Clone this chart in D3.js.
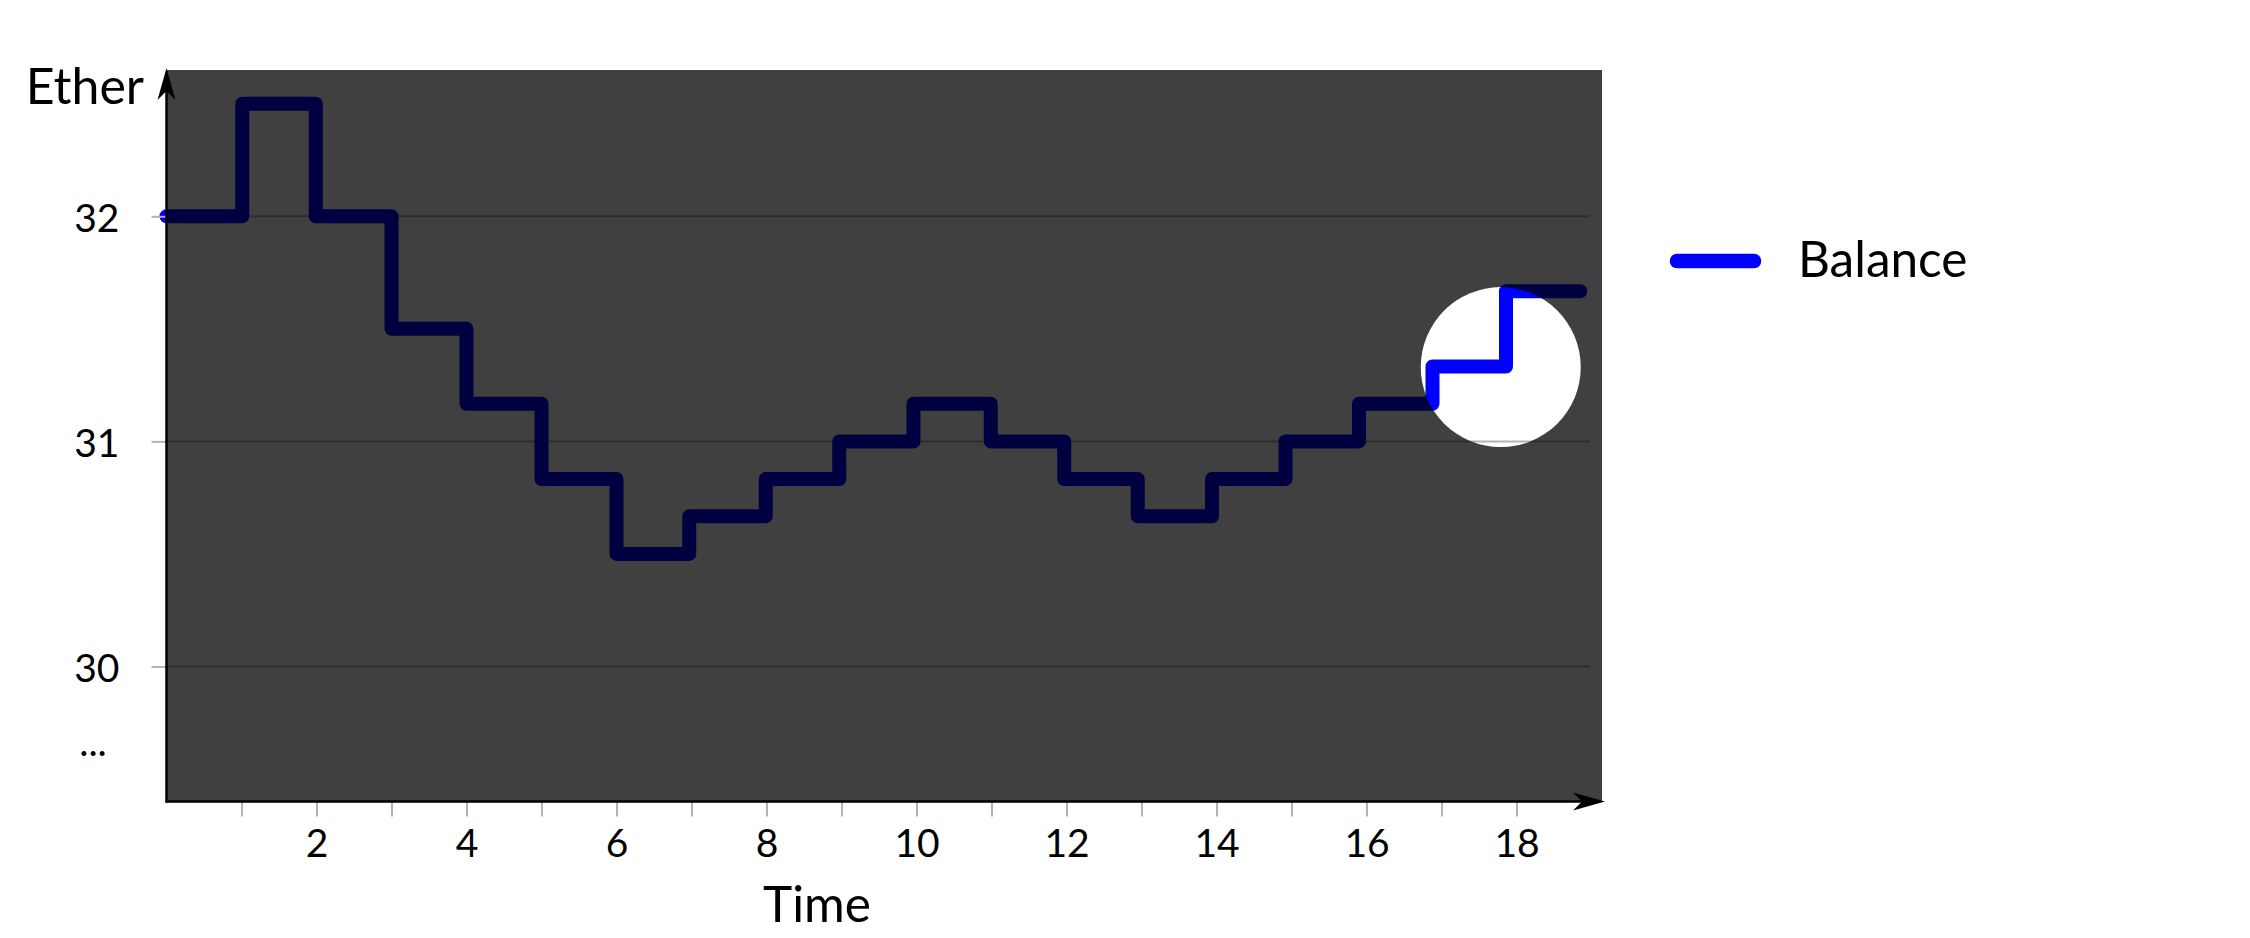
<!DOCTYPE html>
<html>
<head>
<meta charset="utf-8">
<script src="https://cdn.jsdelivr.net/npm/d3@7"></script>
<style>
  html, body { margin: 0; padding: 0; background: #ffffff; }
  svg { display: block; font-family: Lato, "Open Sans", sans-serif; }
</style>
</head>
<body>
<svg id="chart" width="2250" height="938"></svg>
<script>
// ---- data ----
const times    = [0, 1.01, 1.99, 3, 4, 5, 6, 6.97, 7.99, 8.97, 9.96, 10.99, 11.97, 12.95, 13.94, 14.92, 15.9, 16.88, 17.86, 18.85];
const balances = [32, 32.5, 32, 31.5, 31.167, 30.833, 30.5, 30.667, 30.833, 31, 31.167, 31, 30.833, 30.667, 30.833, 31, 31.167, 31.333, 31.667, 31.667];
const xTickValues  = [1, 2, 3, 4, 5, 6, 7, 8, 9, 10, 11, 12, 13, 14, 15, 16, 17, 18];
const xLabelValues = [2, 4, 6, 8, 10, 12, 14, 16, 18];
const yTickValues  = [30, 31, 32];
const yEllipsisValue = 29.6;
const yEllipsisLabel = "...";
const seriesName = "Balance";
const spotlightCenter = [17.79, 31.33];
const xDomain = [0, 19.14];
const yDomain = [29.4, 32.65];

// ---- layout ----
const W = 2250, H = 938;
const plot = { left: 166.5, right: 1602, top: 70, bottom: 801.5 };
const blue = "#0000ff";
const lineWidth = 14;

const svg = d3.select("#chart");

const x = d3.scaleLinear().domain(xDomain).range([plot.left, plot.right]);
const y = d3.scaleLinear().domain(yDomain).range([plot.bottom, plot.top]);

const data = times.map((t, i) => ({ t, v: balances[i] }));

// mask for the spotlight
const defs = svg.append("defs");
const mask = defs.append("mask").attr("id", "spot")
  .attr("maskUnits", "userSpaceOnUse")
  .attr("x", 0).attr("y", 0).attr("width", W).attr("height", H);
mask.append("rect").attr("x", 0).attr("y", 0).attr("width", W).attr("height", H).attr("fill", "white");
mask.append("circle")
  .attr("cx", x(spotlightCenter[0]))
  .attr("cy", y(spotlightCenter[1]))
  .attr("r", 80)
  .attr("fill", "black");

// grid lines
const gridEnd = plot.right - 12;
svg.append("g").selectAll("line").data(yTickValues).join("line")
  .attr("x1", plot.left).attr("x2", gridEnd)
  .attr("y1", d => y(d)).attr("y2", d => y(d))
  .attr("stroke", "#b3b3b3").attr("stroke-width", 2);

// series line
const line = d3.line().x(d => x(d.t)).y(d => y(d.v)).curve(d3.curveStepAfter);
svg.append("path").datum(data)
  .attr("d", line)
  .attr("fill", "none")
  .attr("stroke", blue)
  .attr("stroke-width", lineWidth)
  .attr("stroke-linecap", "round")
  .attr("stroke-linejoin", "round");

// dark overlay with spotlight hole
svg.append("rect")
  .attr("x", plot.left).attr("y", plot.top)
  .attr("width", plot.right - plot.left).attr("height", plot.bottom - plot.top)
  .attr("fill", "#000").attr("fill-opacity", 0.75)
  .attr("mask", "url(#spot)");

// x axis ticks & labels
const xAxis = d3.axisBottom(x)
  .tickValues(xTickValues)
  .tickSize(15)
  .tickPadding(13)
  .tickFormat(d => xLabelValues.includes(d) ? String(d) : "");
const gx = svg.append("g").attr("transform", `translate(0,${plot.bottom})`).call(xAxis);
gx.select(".domain").remove();
gx.selectAll(".tick line").attr("stroke", "#b3b3b3").attr("stroke-width", 2);
gx.selectAll(".tick text").attr("fill", "#000").attr("font-size", 39).attr("font-family", "Lato");

// y axis ticks & labels
const yAxis = d3.axisLeft(y)
  .tickValues(yTickValues)
  .tickSize(15)
  .tickPadding(32)
  .tickFormat(d3.format("d"));
const gy = svg.append("g").attr("transform", `translate(${plot.left},0)`).call(yAxis);
gy.select(".domain").remove();
gy.selectAll(".tick line").attr("stroke", "#b3b3b3").attr("stroke-width", 2);
gy.selectAll(".tick text").attr("fill", "#000").attr("font-size", 39).attr("font-family", "Lato").attr("dy", "0.38em");

svg.append("text")
  .attr("x", 93).attr("y", y(yEllipsisValue))
  .attr("text-anchor", "middle")
  .attr("font-size", 39)
  .text(yEllipsisLabel);

// axis lines with arrows
const yTip = [plot.left, plot.top - 2];
const xTip = [plot.right + 3, plot.bottom];
svg.append("line")
  .attr("x1", plot.left).attr("y1", plot.bottom + 1)
  .attr("x2", plot.left).attr("y2", yTip[1] + 20)
  .attr("stroke", "#000").attr("stroke-width", 2.5);
svg.append("line")
  .attr("x1", plot.left - 1).attr("y1", plot.bottom)
  .attr("x2", xTip[0] - 20).attr("y2", plot.bottom)
  .attr("stroke", "#000").attr("stroke-width", 2.5);
svg.append("path")
  .attr("d", `M${yTip[0]},${yTip[1]} L${yTip[0] - 9},${yTip[1] + 32} L${yTip[0]},${yTip[1] + 23} L${yTip[0] + 9},${yTip[1] + 32} Z`)
  .attr("fill", "#000");
svg.append("path")
  .attr("d", `M${xTip[0]},${xTip[1]} L${xTip[0] - 32},${xTip[1] - 9} L${xTip[0] - 23},${xTip[1]} L${xTip[0] - 32},${xTip[1] + 9} Z`)
  .attr("fill", "#000");

// axis titles
svg.append("text")
  .attr("x", 144).attr("y", 104)
  .attr("text-anchor", "end")
  .attr("font-size", 50)
  .text("Ether");
svg.append("text")
  .attr("x", 817).attr("y", 921.5)
  .attr("text-anchor", "middle")
  .attr("font-size", 49.5)
  .text("Time");

// legend
const lg = svg.append("g");
lg.append("line")
  .attr("x1", 1677).attr("x2", 1754)
  .attr("y1", 261).attr("y2", 261)
  .attr("stroke", blue).attr("stroke-width", 14.5)
  .attr("stroke-linecap", "round");
lg.append("text")
  .attr("x", 1798).attr("y", 277)
  .attr("font-size", 49.5)
  .text(seriesName);
</script>
</body>
</html>
